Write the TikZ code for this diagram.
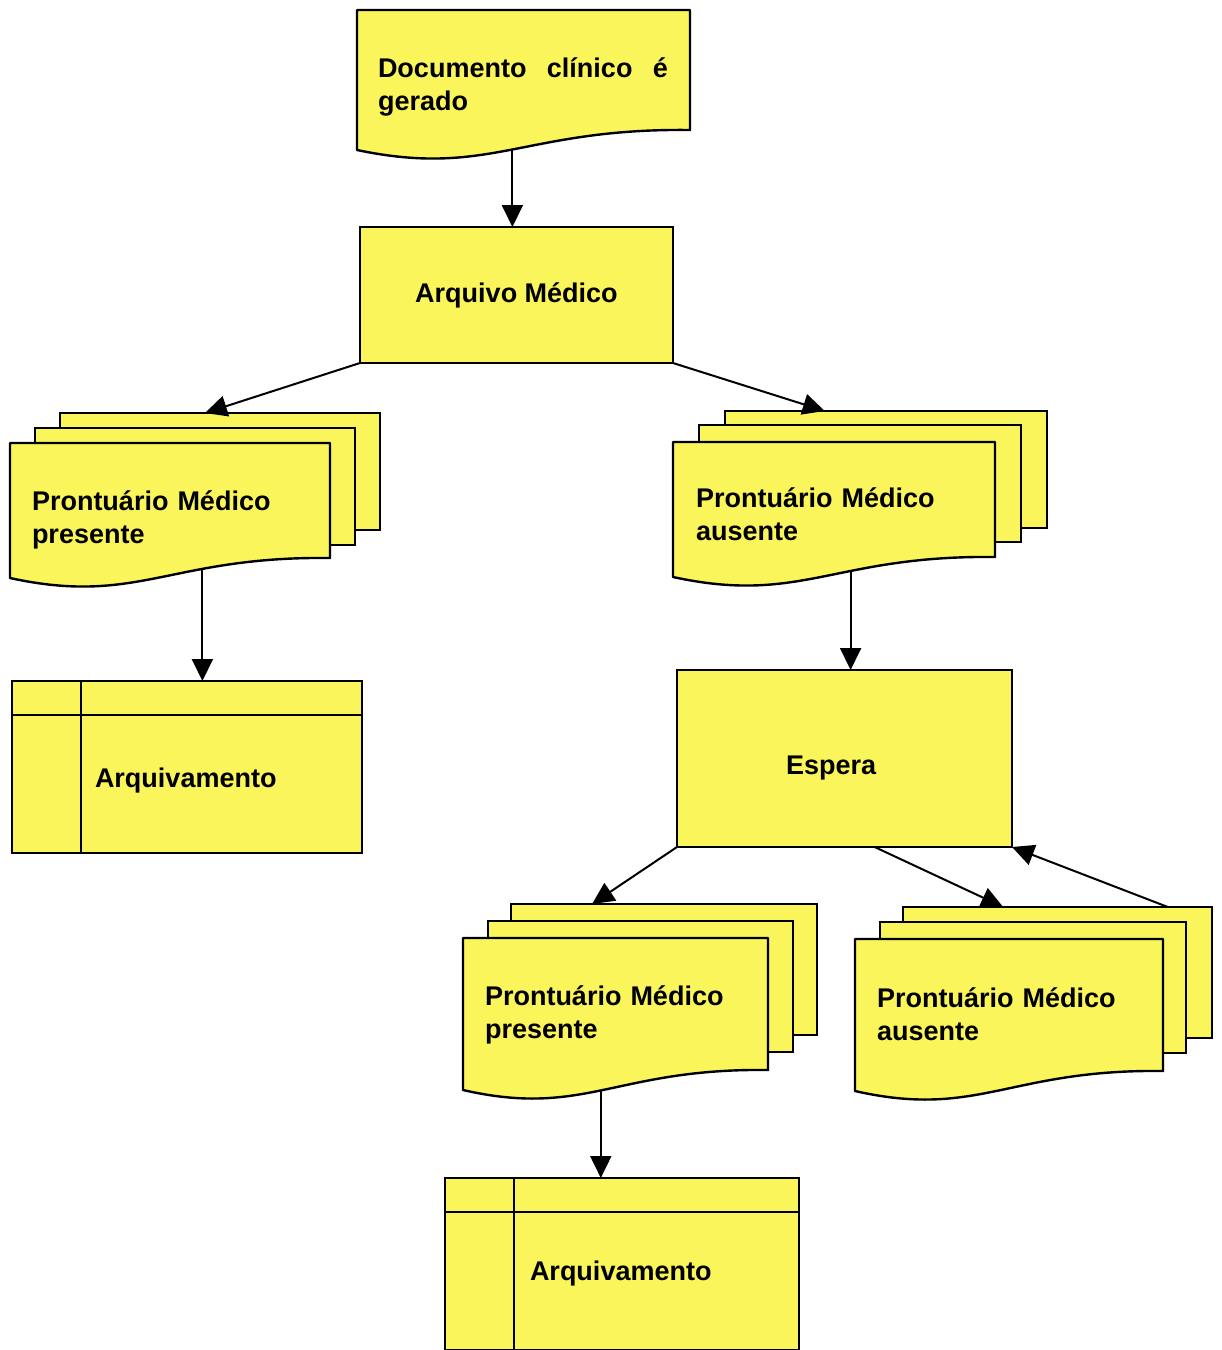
\documentclass[tikz,border=0pt]{standalone}
\usepackage{fontspec}
\setmainfont{Liberation Sans}
\usetikzlibrary{arrows.meta,calc}
\definecolor{notepad}{RGB}{250,245,90}

\newcommand{\DocOutline}[3]{%
  \path[DocStyle] (#1.north west) -- (#1.north east) -- ([yshift=20pt]#1.south east)
    .. controls +({-#2},-2) and +({0.8*#2},28) .. (#1.south west)
    coordinate[pos=#3] (#1-out) -- cycle;}

\begin{document}
\begin{tikzpicture}[x=1pt,y=-1pt]
  \tikzset{DocStyle/.style = {
    draw          = black,
    fill          = notepad,
    line width    = 2.4pt,
    line join     = round
    }
  }
  \tikzset{FrameStyle/.style = {
    shape         = rectangle,
    draw          = none,
    inner sep     = 0pt,
    outer sep     = 0pt,
    anchor        = north west
    }
  }
  \tikzset{BoxStyle/.style = {
    shape         = rectangle,
    draw          = black,
    fill          = notepad,
    line width    = 2.4pt,
    text          = black,
    font          = \bfseries\fontsize{27pt}{33pt}\selectfont,
    inner sep     = 0pt,
    outer sep     = 0pt,
    anchor        = north west
    }
  }
  \tikzset{ArchiveStyle/.style = {
    BoxStyle,
    path picture  = {
      \draw[line width=2.2pt] ([yshift=-34pt]path picture bounding box.north west)
        -- ([yshift=-34pt]path picture bounding box.north east);
      \draw[line width=2.2pt] ([xshift=69pt]path picture bounding box.north west)
        -- ([xshift=69pt]path picture bounding box.south west);
      }
    }
  }
  \tikzset{TextStyle/.style = {
    text          = black,
    font          = \bfseries\fontsize{27pt}{33pt}\selectfont,
    inner sep     = 0pt,
    outer sep     = 0pt,
    anchor        = base west,
    text width    = 280pt,
    align         = left
    }
  }
  \tikzset{EdgeStyle/.style = {
    draw          = black,
    line width    = 2pt,
    -{Triangle[length=22pt,width=21pt]}
    }
  }

  \useasboundingbox (0,0) rectangle (1222,1350);
  \clip (0,0) rectangle (1222,1350);

  \node[FrameStyle, minimum width=333pt, minimum height=140pt](DC) at (357, 10) {};
  \DocOutline{DC}{166.5}{0.495}
  \node[TextStyle, text width=290pt, align=justify](DC-txt) at (378, 77.7) {Documento clínico é gerado};

  \node[BoxStyle, minimum width=313pt, minimum height=136pt](AM) at (360, 227) {Arquivo Médico};

  \node[BoxStyle, minimum width=320pt, minimum height=117pt](PMa-3) at (60, 413) {};
  \node[BoxStyle, minimum width=320pt, minimum height=117pt](PMa-2) at (35, 428) {};
  \node[FrameStyle, minimum width=320pt, minimum height=135pt](PMa) at (10, 443) {};
  \DocOutline{PMa}{160}{0.34}
  \node[TextStyle](PMa-txt) at (32, 510) {Prontuário Médico\\presente};

  \node[BoxStyle, minimum width=322pt, minimum height=117pt](PMb-3) at (725, 411) {};
  \node[BoxStyle, minimum width=322pt, minimum height=117pt](PMb-2) at (699, 425) {};
  \node[FrameStyle, minimum width=322pt, minimum height=135pt](PMb) at (673, 442) {};
  \DocOutline{PMb}{161}{0.395}
  \node[TextStyle](PMb-txt) at (696, 507) {Prontuário Médico\\ausente};

  \node[ArchiveStyle, minimum width=350pt, minimum height=172pt](AR1) at (12, 681) {};
  \node[TextStyle](AR1-txt) at (95, 787) {Arquivamento};

  \node[BoxStyle, minimum width=335pt, minimum height=177pt](ES) at (677, 670) {};
  \node[TextStyle](ES-txt) at (786, 774) {Espera};

  \node[BoxStyle, minimum width=306pt, minimum height=131pt](PMc-3) at (511, 904) {};
  \node[BoxStyle, minimum width=305pt, minimum height=131pt](PMc-2) at (488, 921) {};
  \node[FrameStyle, minimum width=305pt, minimum height=152pt](PMc) at (463, 938) {};
  \DocOutline{PMc}{152.5}{0.513}
  \node[TextStyle](PMc-txt) at (485, 1005) {Prontuário Médico\\presente};

  \node[BoxStyle, minimum width=309pt, minimum height=131pt](PMd-3) at (903, 907) {};
  \node[BoxStyle, minimum width=306pt, minimum height=131pt](PMd-2) at (880, 922) {};
  \node[FrameStyle, minimum width=308pt, minimum height=152pt](PMd) at (855, 939) {};
  \DocOutline{PMd}{154}{0.45}
  \node[TextStyle](PMd-txt) at (877, 1007) {Prontuário Médico\\ausente};

  \node[ArchiveStyle, minimum width=354pt, minimum height=172pt](AR2) at (445, 1178) {};
  \node[TextStyle](AR2-txt) at (530, 1280) {Arquivamento};

  \draw[EdgeStyle](DC-out) -- (DC-out |- AM.north);
  \draw[EdgeStyle](AM.south west) -- ($(PMa-3.north west)!0.453!(PMa-3.north east)$);
  \draw[EdgeStyle](AM.south east) -- ($(PMb-3.north west)!0.31!(PMb-3.north east)$);
  \draw[EdgeStyle](PMa-out) -- (PMa-out |- AR1.north);
  \draw[EdgeStyle](PMb-out) -- (PMb-out |- ES.north);
  \draw[EdgeStyle](ES.south west) -- ($(PMc-3.north west)!0.265!(PMc-3.north east)$);
  \draw[EdgeStyle]($(ES.south west)!0.59!(ES.south east)$) -- ($(PMd-3.north west)!0.324!(PMd-3.north east)$);
  \draw[EdgeStyle]($(PMd-3.north west)!0.857!(PMd-3.north east)$) -- (ES.south east);
  \draw[EdgeStyle](PMc-out) -- (PMc-out |- AR2.north);

\end{tikzpicture}
\end{document}
